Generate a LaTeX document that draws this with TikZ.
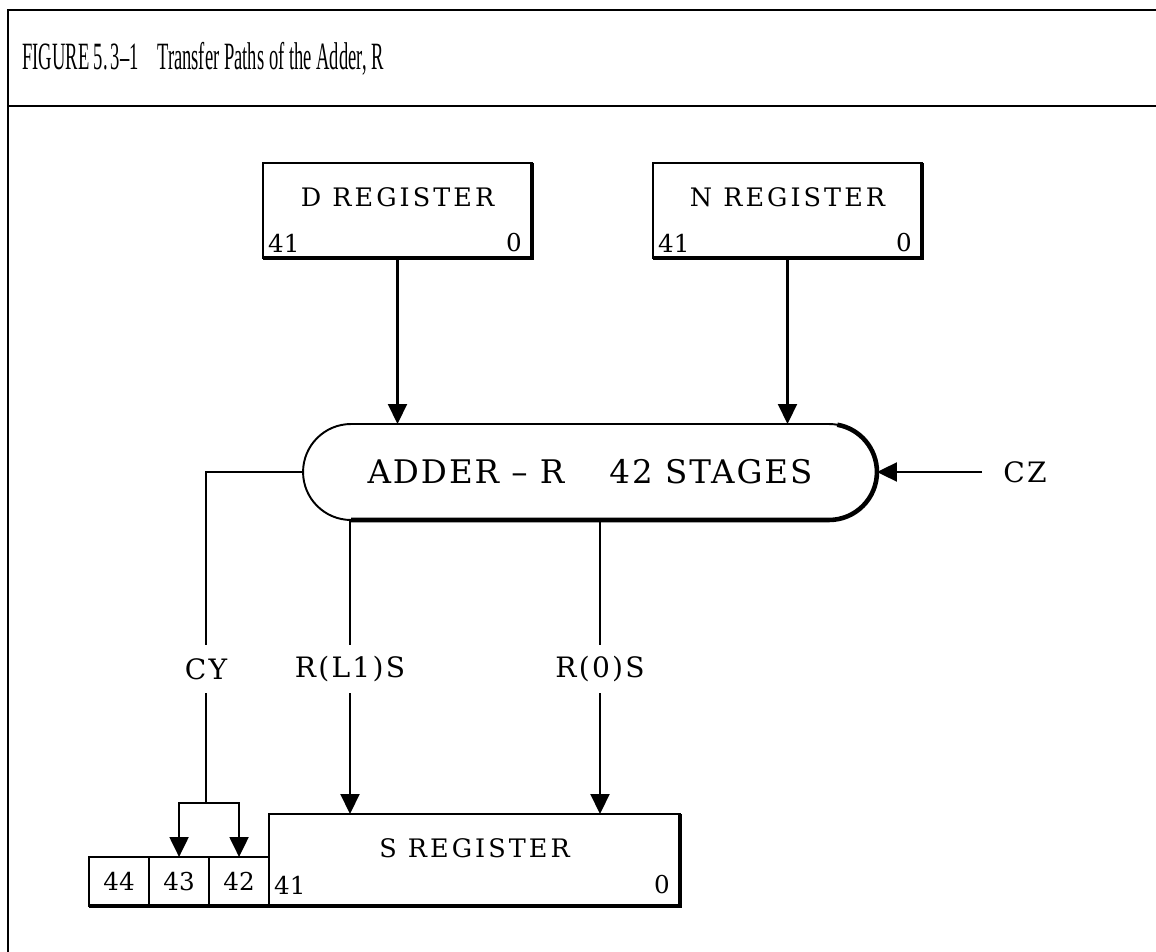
\documentclass[tikz,border=0pt]{standalone}
\usepackage{fontspec}
\setmainfont{DejaVu Serif}
\newfontfamily\titlefont{Liberation Serif}
\usetikzlibrary{arrows.meta,positioning,shapes.misc}

\newcommand\regfont{\fontsize{14.5}{17}\selectfont\addfontfeature{LetterSpace=12}}
\newcommand\adderfont{\fontsize{18.5}{21}\selectfont\addfontfeature{LetterSpace=6}}
\newcommand\numfont{\fontsize{14}{17}\selectfont}
\newcommand\sigfont{\fontsize{16}{19}\selectfont\addfontfeature{LetterSpace=8}}

\tikzset{
  register/.style={draw, line width=1.1pt, minimum width=5.38cm, minimum height=1.9cm, inner sep=0pt, outer sep=0pt},
  regname/.style={font=\regfont, inner sep=1pt},
  bitnum/.style={font=\numfont, inner sep=1pt},
  bitbox/.style={draw, line width=1.1pt, minimum width=1.2cm, minimum height=0.98cm, inner sep=0pt, outer sep=0pt, font=\numfont},
  adderbox/.style={rounded rectangle, draw, line width=1.1pt, minimum width=11.48cm, minimum height=1.92cm, inner sep=0pt, outer sep=0pt, font=\adderfont},
  signal/.style={font=\sigfont, minimum height=0.96cm, inner sep=0pt},
  titletext/.style={font=\titlefont\fontsize{22}{26}\selectfont, inner sep=0pt},
  heavy/.style={line width=2.6pt},
  wire/.style={line width=1.2pt},
  arrow/.style={-{Triangle[length=0.4cm,width=0.38cm]}, line width=1.2pt},
  frameline/.style={line width=1.5pt}
}

\begin{document}
\begin{tikzpicture}[x=0.02cm, y=-0.02cm]
  \useasboundingbox (0,0) rectangle (1156,952);
  % frame and heading
  \draw[frameline] (1156,10) -- (8,10) -- (8,952);
  \draw[frameline] (8,106) -- (1156,106);
  \node[titletext, anchor=west] (title) at (22,59) {\scalebox{0.48}[1]{FIGURE 5.\,3–1\quad Transfer Paths of the Adder, R}};

  % registers
  \node[register] (dreg) at (397.5,210.5) {};
  \node[register] (nreg) at (787.5,210.5) {};
  \node[register, minimum width=8.22cm, minimum height=1.84cm] (sreg) at (474.5,860) {};
  \node[regname] (dname) at ([yshift=-0.68cm]dreg.north) {D REGISTER};
  \node[regname] (nname) at ([yshift=-0.68cm]nreg.north) {N REGISTER};
  \node[regname] (sname) at ([yshift=-0.68cm]sreg.north) {S REGISTER};
  \node[bitnum, anchor=west] (dhi) at ([shift={(0.06cm,0.3cm)}]dreg.south west) {41};
  \node[bitnum, anchor=east] (dlo) at ([shift={(-0.16cm,0.3cm)}]dreg.south east) {0};
  \node[bitnum, anchor=west] (nhi) at ([shift={(0.06cm,0.3cm)}]nreg.south west) {41};
  \node[bitnum, anchor=east] (nlo) at ([shift={(-0.16cm,0.3cm)}]nreg.south east) {0};
  \node[bitnum, anchor=west] (shi) at ([shift={(0.06cm,0.42cm)}]sreg.south west) {41};
  \node[bitnum, anchor=east] (slo) at ([shift={(-0.16cm,0.42cm)}]sreg.south east) {0};

  % extra stages left of S
  \node[bitbox, anchor=south east] (b42) at (sreg.south west) {42};
  \node[bitbox, left=0pt of b42] (b43) {43};
  \node[bitbox, left=0pt of b43] (b44) {44};

  % adder
  \node[adderbox] (adder) at (590,472) {ADDER – R\hspace{0.9cm}42 STAGES};

  % signal names
  \node[signal] (cy) at (206,669) {CY};
  \node[signal] (rl1) at (350,669) {R(L1)S};
  \node[signal] (r0) at (600,669) {R(0)S};
  \node[signal, inner xsep=0.42cm, anchor=west] (cz) at (982,472) {CZ};
  \coordinate (split) at (206,803);

  % paths
  \draw[arrow] (dreg.south) -- (dreg.south |- adder.north);
  \draw[arrow] (nreg.south) -- (nreg.south |- adder.north);
  \draw[arrow] (cz.west) -- (cz.west -| adder.east);
  \draw[wire] (adder.west) -| (cy.north);
  \draw[wire] (cy.south) -- (split);
  \draw[arrow] (split) -| (b43.north);
  \draw[arrow] (split) -| (b42.north);
  \draw[wire] (rl1.north |- adder.south) -- (rl1.north);
  \draw[arrow] (rl1.south) -- (rl1.south |- sreg.north);
  \draw[wire] (r0.north |- adder.south) -- (r0.north);
  \draw[arrow] (r0.south) -- (r0.south |- sreg.north);

  % heavy shadow edges
  \foreach \r in {dreg,nreg}
    \draw[heavy] (\r.north east) -- (\r.south east) -- (\r.south west);
  \draw[heavy] (sreg.north east) -- (sreg.south east) -- (b44.south west);
  \draw[heavy] ([xshift=-4.78cm]adder.south) -- ([xshift=4.78cm]adder.south) arc[start angle=-90, end angle=80, radius=0.96cm];
\end{tikzpicture}
\end{document}
